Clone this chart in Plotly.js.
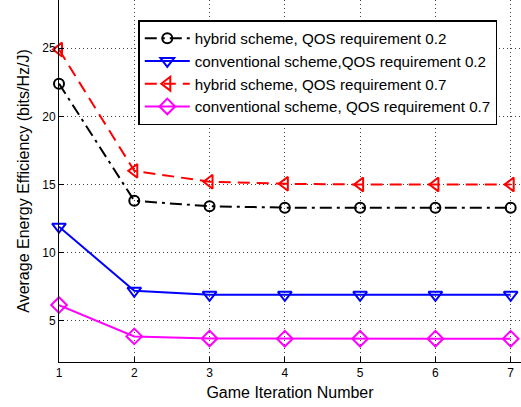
<!DOCTYPE html>
<html>
<head>
<meta charset="utf-8">
<script src="https://cdn.plot.ly/plotly-3.0.1.min.js"></script>
<style>html,body{margin:0;padding:0;background:#fff;}#chart{width:521px;height:407px;}</style>
</head>
<body>
<div id="chart"></div>
<script>
var iterations = [1, 2, 3, 4, 5, 6, 7];
var hybrid02 = [22.4, 13.8, 13.4, 13.3, 13.3, 13.3, 13.3];
var conventional02 = [11.9, 7.2, 6.9, 6.9, 6.9, 6.9, 6.9];
var hybrid07 = [24.9, 16.0, 15.2, 15.05, 15.0, 15.0, 15.0];
var conventional07 = [6.15, 3.85, 3.7, 3.68, 3.68, 3.68, 3.68];
var names = [
  'hybrid scheme, QOS requirement 0.2',
  'conventional scheme,QOS requirement 0.2',
  'hybrid scheme, QOS requirement 0.7',
  'conventional scheme, QOS requirement 0.7'
];

var font = 'Liberation Sans, Arial, Helvetica, sans-serif';
function tr(y, name, color, dash, symbol, size) {
  return {
    x: iterations, y: y, name: name, type: 'scatter', mode: 'lines+markers',
    cliponaxis: false,
    line: {color: color, width: 2, dash: dash},
    marker: {symbol: symbol, size: size, color: color, line: {color: color, width: 2}}
  };
}
var data = [
  tr(hybrid02, names[0], '#000000', '12px,5px,3px,5px', 'circle-open', 10),
  tr(conventional02, names[1], '#0000ff', 'solid', 'triangle-down-open', 12),
  tr(hybrid07, names[2], '#ff0000', '12px,7px', 'triangle-left-open', 12),
  tr(conventional07, names[3], '#ff00ff', 'solid', 'diamond-open', 12)
];
var layout = {
  width: 521, height: 407,
  margin: {l: 59, r: 0, t: 0, b: 45},
  paper_bgcolor: '#fff', plot_bgcolor: '#fff',
  font: {family: font, color: '#000', size: 12},
  showlegend: true,
  legend: {
    x: 0.1716, y: 0.944, xanchor: 'left', yanchor: 'top',
    bgcolor: '#fff', bordercolor: '#000', borderwidth: 1.5,
    font: {family: font, size: 15.2, color: '#000'},
    itemwidth: 45,
    tracegroupgap: 0
  },
  xaxis: {
    range: [1, 7.137], tickvals: iterations, ticktext: iterations.map(String),
    showline: true, linecolor: '#000', linewidth: 1, mirror: false,
    ticks: 'inside', ticklen: 5, tickcolor: '#000',
    showgrid: true, gridcolor: '#444', griddash: '1px,3px', gridwidth: 1,
    zeroline: false,
    tickfont: {size: 12},
    title: {text: 'Game Iteration Number', font: {size: 16}, standoff: 7}
  },
  yaxis: {
    range: [1.97, 28.54], tickvals: [5, 10, 15, 20, 25],
    showline: true, linecolor: '#000', linewidth: 1, mirror: false,
    ticks: 'inside', ticklen: 5, tickcolor: '#000',
    showgrid: true, gridcolor: '#444', griddash: '1px,3px', gridwidth: 1,
    zeroline: false,
    tickfont: {size: 12},
    title: {text: 'Average Energy Efficiency (bits/Hz/J)', font: {size: 16}, standoff: 8}
  }
};
Plotly.newPlot('chart', data, layout, {displayModeBar: false, staticPlot: true});
</script>
</body>
</html>
